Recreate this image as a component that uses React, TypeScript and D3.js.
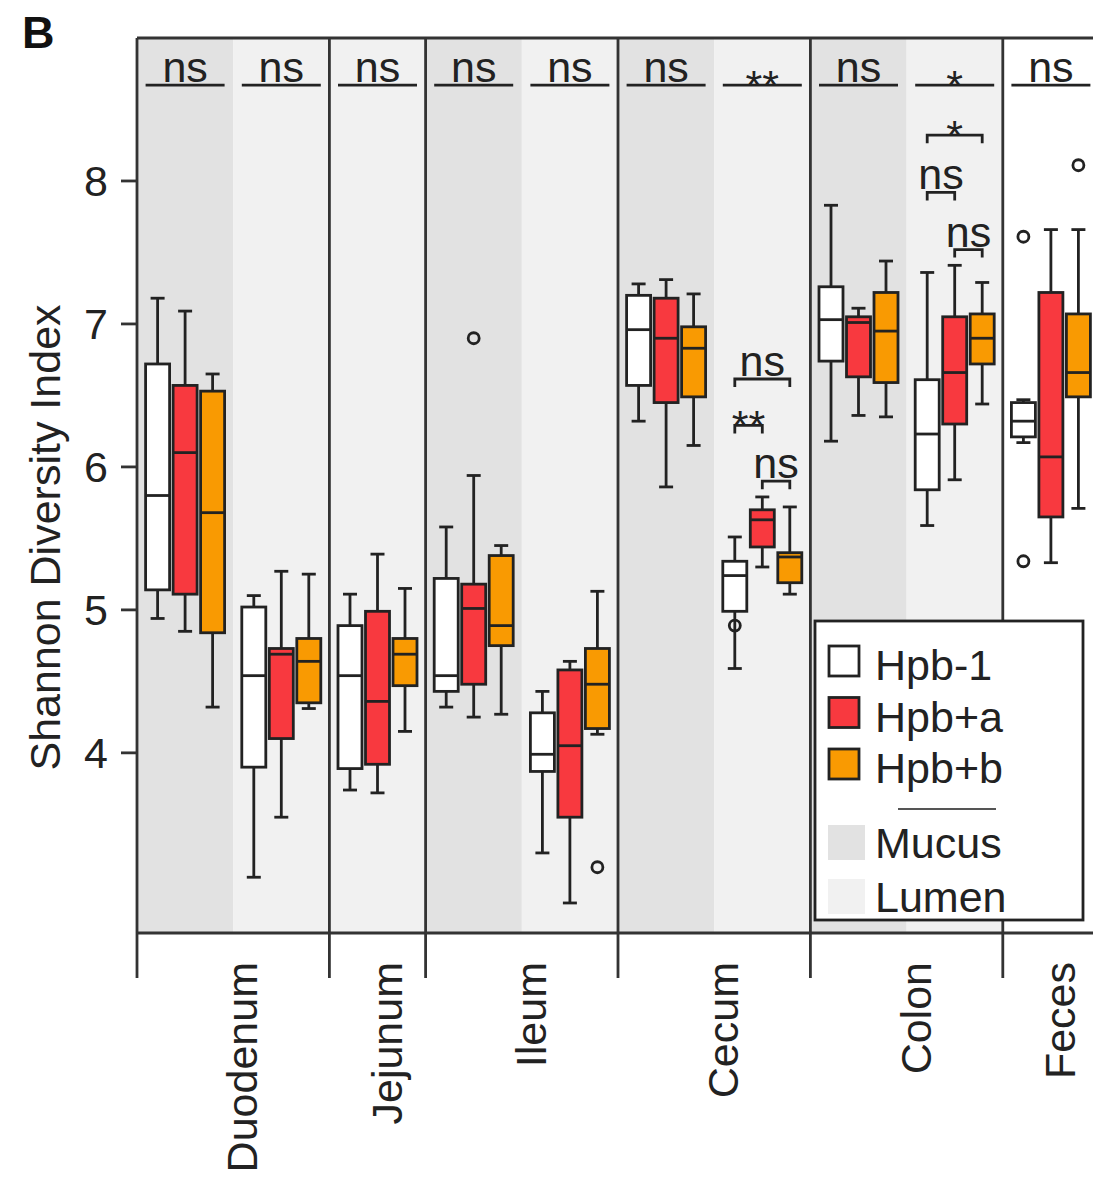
import React from "react";
import * as d3 from "d3";

// ---------- data ----------
const columnKeys = [
  "Duodenum|Mucus", "Duodenum|Lumen", "Jejunum|Lumen", "Ileum|Mucus", "Ileum|Lumen",
  "Cecum|Mucus", "Cecum|Lumen", "Colon|Mucus", "Colon|Lumen", "Feces|Feces",
];
const columnLayer = ["Mucus", "Lumen", "Lumen", "Mucus", "Lumen", "Mucus", "Lumen", "Mucus", "Lumen", "Feces"];
const sites = ["Duodenum", "Jejunum", "Ileum", "Cecum", "Colon", "Feces"];
const groups = ["Hpb-1", "Hpb+a", "Hpb+b"];
const yTicks = [4, 5, 6, 7, 8];

// [lower whisker, Q1, median, Q3, upper whisker] per column
const hpb1Stats = [
  [4.94, 5.14, 5.80, 6.72, 7.18],
  [3.13, 3.90, 4.54, 5.02, 5.10],
  [3.74, 3.89, 4.54, 4.89, 5.11],
  [4.32, 4.43, 4.54, 5.22, 5.58],
  [3.30, 3.87, 3.99, 4.28, 4.43],
  [6.32, 6.57, 6.96, 7.20, 7.28],
  [4.59, 4.99, 5.24, 5.34, 5.51],
  [6.18, 6.74, 7.03, 7.26, 7.83],
  [5.59, 5.84, 6.23, 6.61, 7.36],
  [6.17, 6.21, 6.32, 6.45, 6.47],
];
const hpbaStats = [
  [4.85, 5.11, 6.10, 6.57, 7.09],
  [3.55, 4.10, 4.69, 4.73, 5.27],
  [3.72, 3.92, 4.36, 4.99, 5.39],
  [4.25, 4.48, 5.01, 5.18, 5.94],
  [2.95, 3.55, 4.05, 4.58, 4.64],
  [5.86, 6.45, 6.90, 7.18, 7.31],
  [5.30, 5.44, 5.63, 5.70, 5.79],
  [6.36, 6.63, 7.01, 7.05, 7.11],
  [5.91, 6.30, 6.66, 7.05, 7.41],
  [5.33, 5.65, 6.07, 7.22, 7.66],
];
const hpbbStats = [
  [4.32, 4.84, 5.68, 6.53, 6.65],
  [4.31, 4.35, 4.64, 4.80, 5.25],
  [4.15, 4.47, 4.69, 4.80, 5.15],
  [4.27, 4.75, 4.89, 5.38, 5.45],
  [4.13, 4.17, 4.48, 4.73, 5.13],
  [6.15, 6.49, 6.83, 6.98, 7.21],
  [5.11, 5.19, 5.37, 5.40, 5.72],
  [6.35, 6.59, 6.95, 7.22, 7.44],
  [6.44, 6.72, 6.90, 7.07, 7.29],
  [5.71, 6.49, 6.66, 7.07, 7.66],
];

const outlierColumn = [3, 4, 6, 9, 9, 9];
const outlierGroup = ["Hpb+a", "Hpb+b", "Hpb-1", "Hpb-1", "Hpb-1", "Hpb+b"];
const outlierValue = [6.90, 3.20, 4.89, 7.61, 5.34, 8.11];

const overallLabels = ["ns", "ns", "ns", "ns", "ns", "ns", "**", "ns", "*", "ns"];
const overallY = 8.67;

const pairColumn = [6, 6, 6, 8, 8, 8];
const pairFrom = ["Hpb-1", "Hpb-1", "Hpb+a", "Hpb-1", "Hpb-1", "Hpb+a"];
const pairTo = ["Hpb+b", "Hpb+a", "Hpb+b", "Hpb+b", "Hpb+a", "Hpb+b"];
const pairLabel = ["ns", "**", "ns", "*", "ns", "ns"];
const pairY = [6.615, 6.29, 5.90, 8.32, 7.92, 7.52];

// ---------- style ----------
const FONT = "'Liberation Sans', Arial, Helvetica, sans-serif";
const FS = 43;
const groupFill: Record<string, string> = { "Hpb-1": "#FFFFFF", "Hpb+a": "#F8393F", "Hpb+b": "#F99A02" };
const layerFill: Record<string, string> = { Mucus: "#E2E2E2", Lumen: "#F1F1F1", Feces: "#FFFFFF" };
const INK = "#222";
const LW = 2.8;

export default function App() {
  const W = 1093, H = 1195;
  const left = 137, top = 38, bottom = 933;
  const colW = 96.2;

  const x = d3.scaleBand<string>().domain(columnKeys).range([left, left + colW * columnKeys.length]).padding(0);
  const dodge = d3.scalePoint<string>().domain(groups).range([-27.5, 27.5]);
  const y = d3.scaleLinear().domain([2.74, 9.0]).range([bottom, top]);
  const boxW = 24;
  const capW = 14;

  const statsByGroup: Record<string, number[][]> = { "Hpb-1": hpb1Stats, "Hpb+a": hpbaStats, "Hpb+b": hpbbStats };
  const cx = (ci: number) => (x(columnKeys[ci]) as number) + x.bandwidth() / 2;

  // site panels
  const siteCols = sites.map((s) => columnKeys.map((k, i) => (k.split("|")[0] === s ? i : -1)).filter((i) => i >= 0));
  const siteStart = siteCols.map((cs) => x(columnKeys[cs[0]]) as number);
  const siteEnd = siteCols.map((cs) => (x(columnKeys[cs[cs.length - 1]]) as number) + x.bandwidth());
  const boundaries = [siteStart[0], ...siteEnd];
  const right = siteEnd[siteEnd.length - 1];

  const starText = (s: string) => /^\*+$/.test(s);

  const sigLabel = (label: string, xc: number, ly: number, key: string) => (
    <text key={key} x={xc} y={starText(label) ? ly + 15 : ly - 3} textAnchor="middle"
      fontFamily={FONT} fontSize={FS} fill={INK}>{label}</text>
  );

  return (
    <svg width={W} height={H} style={{ position: "absolute", left: 0, top: 0, background: "#fff" }}>
      {/* backgrounds */}
      {columnKeys.map((k, i) => (
        <rect key={k} x={x(k)} y={top} width={x.bandwidth()} height={bottom - top} fill={layerFill[columnLayer[i]]} />
      ))}

      {/* panel separators & frame */}
      <line x1={left} x2={right} y1={top} y2={top} stroke="#333" strokeWidth={LW} />
      <line x1={left} x2={right} y1={bottom} y2={bottom} stroke="#333" strokeWidth={LW} />
      {boundaries.map((b, i) => (
        <g key={"b" + i}>
          <line x1={b} x2={b} y1={top} y2={bottom} stroke="#333" strokeWidth={LW} />
          <line x1={b} x2={b} y1={bottom} y2={bottom + 45} stroke="#333" strokeWidth={LW} />
        </g>
      ))}

      {/* y axis */}
      {yTicks.map((t) => (
        <g key={"t" + t}>
          <line x1={left - 16} x2={left} y1={y(t)} y2={y(t)} stroke="#333" strokeWidth={LW} />
          <text x={108} y={y(t)} textAnchor="end" dominantBaseline="central" fontFamily={FONT} fontSize={FS} fill={INK}>{t}</text>
        </g>
      ))}
      <text transform={`translate(45,${(top + bottom) / 2 + 52}) rotate(-90)`} textAnchor="middle" dominantBaseline="central"
        fontFamily={FONT} fontSize={FS} fill={INK}>Shannon Diversity Index</text>

      {/* x labels */}
      {sites.map((s, i) => (
        <text key={s} transform={`translate(${(siteStart[i] + siteEnd[i]) / 2 + 9},${bottom + 29}) rotate(-90)`}
          textAnchor="end" dominantBaseline="central" fontFamily={FONT} fontSize={FS} fill={INK}>{s}</text>
      ))}

      {/* boxes */}
      {columnKeys.map((k, ci) =>
        groups.map((g) => {
          const [lo, q1, med, q3, hi] = statsByGroup[g][ci];
          const bx = cx(ci) + (dodge(g) as number);
          return (
            <g key={k + g} stroke={INK} strokeWidth={LW}>
              <line x1={bx} x2={bx} y1={y(hi)} y2={y(q3)} />
              <line x1={bx} x2={bx} y1={y(q1)} y2={y(lo)} />
              <line x1={bx - capW / 2} x2={bx + capW / 2} y1={y(hi)} y2={y(hi)} />
              <line x1={bx - capW / 2} x2={bx + capW / 2} y1={y(lo)} y2={y(lo)} />
              <rect x={bx - boxW / 2} y={y(q3)} width={boxW} height={y(q1) - y(q3)} fill={groupFill[g]} />
              <line x1={bx - boxW / 2} x2={bx + boxW / 2} y1={y(med)} y2={y(med)} />
            </g>
          );
        })
      )}

      {/* outliers */}
      {outlierValue.map((v, i) => (
        <circle key={"o" + i} cx={cx(outlierColumn[i]) + (dodge(outlierGroup[i]) as number)} cy={y(v)} r={5.5}
          fill="none" stroke={INK} strokeWidth={LW} />
      ))}

      {/* overall significance */}
      {overallLabels.map((lab, ci) => {
        const x1 = cx(ci) + (dodge(groups[0]) as number) - boxW / 2;
        const x2 = cx(ci) + (dodge(groups[2]) as number) + boxW / 2;
        const ly = y(overallY);
        return (
          <g key={"s" + ci}>
            <line x1={x1} x2={x2} y1={ly} y2={ly} stroke={INK} strokeWidth={LW} />
            {sigLabel(lab, (x1 + x2) / 2, ly, "sl" + ci)}
          </g>
        );
      })}

      {/* pairwise brackets */}
      {pairLabel.map((lab, i) => {
        const x1 = cx(pairColumn[i]) + (dodge(pairFrom[i]) as number);
        const x2 = cx(pairColumn[i]) + (dodge(pairTo[i]) as number);
        const ly = y(pairY[i]);
        return (
          <g key={"p" + i}>
            <path d={`M${x1},${ly + 8}V${ly}H${x2}V${ly + 8}`} fill="none" stroke={INK} strokeWidth={LW} />
            {sigLabel(lab, (x1 + x2) / 2, ly, "pl" + i)}
          </g>
        );
      })}

      {/* legend */}
      <g>
        <rect x={815} y={621} width={268} height={299} fill="#fff" stroke={INK} strokeWidth={LW} />
        {groups.map((g, i) => (
          <g key={"lg" + g}>
            <rect x={829} y={646 + i * 51.5} width={30} height={30} fill={groupFill[g]} stroke={INK} strokeWidth={LW} />
            <text x={875} y={680 + i * 51.5} fontFamily={FONT} fontSize={FS} fill={INK}>{g}</text>
          </g>
        ))}
        <line x1={898} x2={996} y1={809} y2={809} stroke="#555" strokeWidth={2} />
        {["Mucus", "Lumen"].map((l, i) => (
          <g key={"ll" + l}>
            <rect x={828} y={825 + i * 54} width={37} height={35} fill={layerFill[l]} />
            <text x={875} y={858 + i * 54} fontFamily={FONT} fontSize={FS} fill={INK}>{l}</text>
          </g>
        ))}
      </g>

      {/* panel tag */}
      <text x={22} y={48} fontFamily={FONT} fontSize={45} fontWeight="bold" fill="#111">B</text>
    </svg>
  );
}
